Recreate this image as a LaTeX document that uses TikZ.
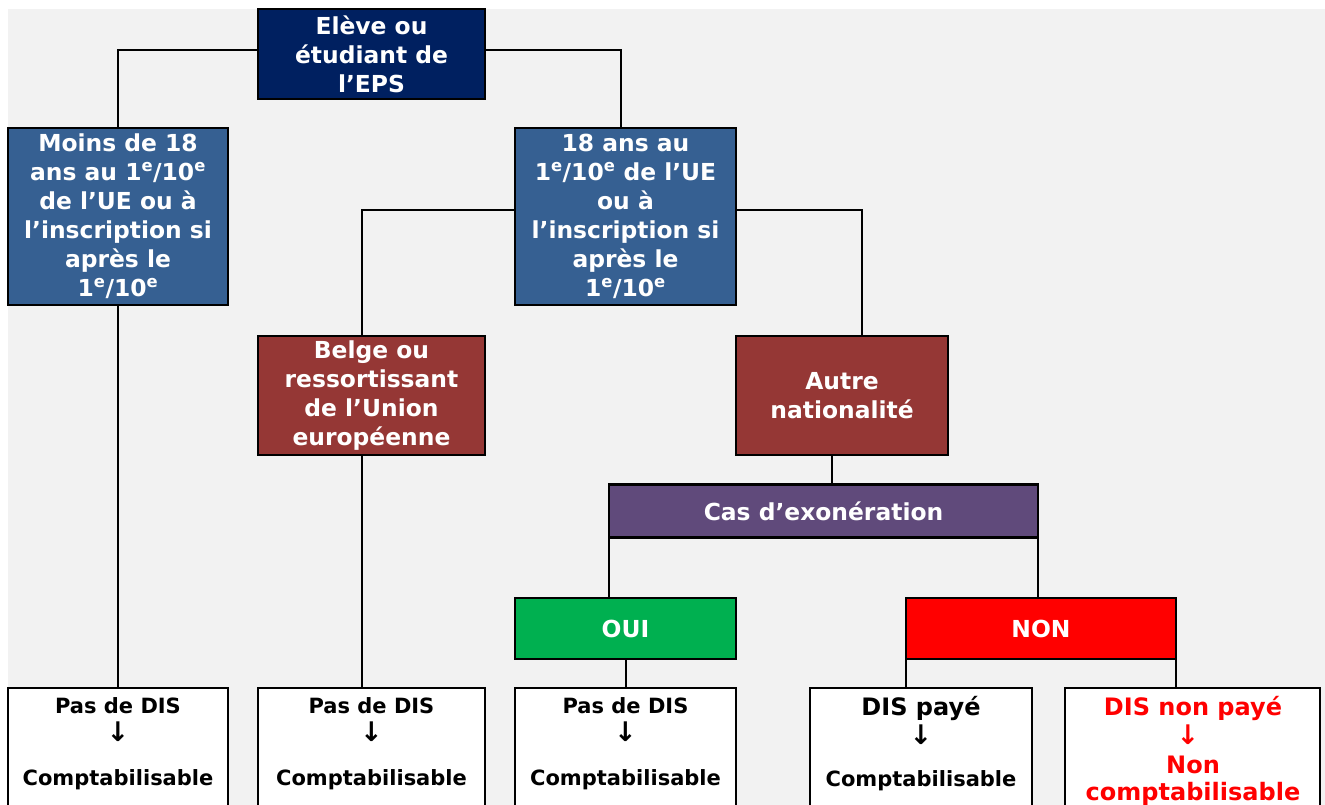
\documentclass[tikz,border=0pt]{standalone}
\usepackage{fontspec}
\setmainfont{DejaVu Sans}
\definecolor{bg}{HTML}{F2F2F2}
\definecolor{navy}{HTML}{002060}
\definecolor{steel}{HTML}{366092}
\definecolor{brick}{HTML}{953735}
\definecolor{violet}{HTML}{604A7B}
\definecolor{vert}{HTML}{00B050}
\definecolor{rouge}{HTML}{FF0000}
\newcommand\expo{\textsuperscript{e}}
\begin{document}
\begin{tikzpicture}[x=1pt,y=-1pt,
  box/.style={draw=black, line width=2.2pt, inner sep=0pt, outer sep=0pt, text=white, align=center,
    font=\bfseries\fontsize{23.4}{29}\selectfont},
  res/.style={draw=black, line width=2.2pt, fill=white, inner sep=0pt, outer sep=0pt},
  conn/.style={line width=2pt, draw=black},
  small/.style={font=\bfseries\fontsize{21}{25}\selectfont, anchor=base, inner sep=0pt},
  big/.style={font=\bfseries\fontsize{24}{27}\selectfont, anchor=base, inner sep=0pt},
  arr/.style={font=\bfseries\fontsize{27}{30}\selectfont, anchor=center, inner sep=0pt},
]
\useasboundingbox (0,0) rectangle (1325,805);
\fill[bg] (8,9) rectangle (1325,805);

% main boxes
\node[box, fill=navy, minimum width=227pt, minimum height=90pt] (eleve) at (371.5,54) {Elève ou\\étudiant de\\l’EPS};
\node[box, fill=steel, minimum width=220pt, minimum height=177pt] (moins) at (118,216.5)
  {Moins de 18\\ans au 1\expo/10\expo\\de l’UE ou à\\l’inscription si\\après le\\1\expo/10\expo};
\node[box, fill=steel, minimum width=221pt, minimum height=177pt] (dixhuit) at (625.5,216.5)
  {18 ans au\\1\expo/10\expo{} de l’UE\\ou à\\l’inscription si\\après le\\1\expo/10\expo};
\node[box, fill=brick, minimum width=227pt, minimum height=119pt] (belge) at (371.5,395.5)
  {Belge ou\\ressortissant\\de l’Union\\européenne};
\node[box, fill=brick, minimum width=212pt, minimum height=119pt] (autre) at (842,395.5)
  {Autre\\nationalité};
\node[box, fill=violet, minimum width=429pt, minimum height=53pt] (cas) at (823.5,511)
  {Cas d’exonération};
\node[box, fill=vert, minimum width=221pt, minimum height=61pt] (oui) at (625.5,628.5) {OUI};
\node[box, fill=rouge, minimum width=270pt, minimum height=61pt] (non) at (1041,628.5) {NON};

% result boxes
\node[res, minimum width=220pt, minimum height=130pt] (pd1) at (118,753) {};
\node[res, minimum width=227pt, minimum height=130pt] (pd2) at (371.5,753) {};
\node[res, minimum width=221pt, minimum height=130pt] (pd3) at (625.5,753) {};
\node[res, minimum width=222pt, minimum height=130pt] (pd4) at (921,753) {};
\node[res, minimum width=255pt, minimum height=130pt] (pd5) at (1192.5,753) {};

% texts in result boxes
\node[small] (t1a) at (118,713) {Pas de DIS};
\node[arr] (t1b) at (118,732) {↓};
\node[small] (t1c) at (118,785) {Comptabilisable};
\node[small] (t2a) at (371.5,713) {Pas de DIS};
\node[arr] (t2b) at (371.5,732) {↓};
\node[small] (t2c) at (371.5,785) {Comptabilisable};
\node[small] (t3a) at (625.5,713) {Pas de DIS};
\node[arr] (t3b) at (625.5,732) {↓};
\node[small] (t3c) at (625.5,785) {Comptabilisable};
\node[big] (t4a) at (921,715) {DIS payé};
\node[arr] (t4b) at (921,734.5) {↓};
\node[small] (t4c) at (921,786) {Comptabilisable};
\node[big, text=rouge] (t5a) at (1193,715) {DIS non payé};
\node[arr, text=rouge] (t5b) at (1188,734.5) {↓};
\node[big, text=rouge] (t5c) at (1193,773) {Non};
\node[big, text=rouge] (t5d) at (1193,800) {comptabilisable};

% connectors
\coordinate (c1) at (118,50);
\coordinate (c2) at (621,50);
\coordinate (c3) at (362,210);
\coordinate (c4) at (862,210);
\coordinate (c5) at (832,0);
\draw[conn] (eleve.west |- c1) -| (moins.north);
\draw[conn] (eleve.east |- c2) -| (dixhuit.north -| c2);
\draw[conn] (dixhuit.west |- c3) -| (belge.north -| c3);
\draw[conn] (dixhuit.east |- c4) -| (autre.north -| c4);
\draw[conn] (moins.south) -- (pd1.north);
\draw[conn] (belge.south -| c3) -- (pd2.north -| c3);
\draw[conn] (autre.south -| c5) -- (cas.north -| c5);
\draw[conn] (cas.south west) -- (oui.north -| cas.south west);
\draw[conn] (cas.south east) -- (non.north -| cas.south east);
\draw[conn] (oui.south) -- (pd3.north);
\draw[conn] (non.south west) -- (pd4.north -| non.south west);
\draw[conn] (non.south east) -- (pd5.north -| non.south east);
\end{tikzpicture}
\end{document}
